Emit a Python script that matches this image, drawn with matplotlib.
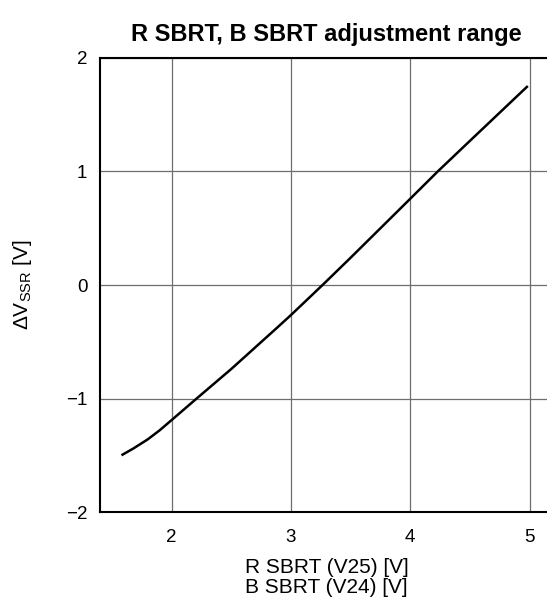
import matplotlib.pyplot as plt

plt.rcParams['font.family'] = ['Liberation Sans', 'DejaVu Sans']
plt.rcParams['mathtext.fontset'] = 'custom'
plt.rcParams['mathtext.rm'] = 'Liberation Sans'
plt.rcParams['mathtext.it'] = 'Liberation Sans'

# R SBRT (V25) / B SBRT (V24) voltage vs. delta VSSR
sbrt_v = [1.58, 1.68, 1.8, 1.9, 2.0, 2.21, 2.5, 2.88, 3.0, 3.265, 3.5, 4.0, 4.23, 4.5, 4.985]
delta_vssr = [-1.5, -1.44, -1.36, -1.28, -1.19, -1.0, -0.74, -0.38, -0.265, 0.0, 0.24, 0.76, 1.0, 1.27, 1.753]

x_ticks = [2, 3, 4, 5]
y_ticks = [-2, -1, 0, 1, 2]
y_ticklabels = ['\u22122', '\u22121', '0', '1', '2']

fig = plt.figure(figsize=(5.47, 5.99), dpi=100)
ax = fig.add_axes([0.1828, 0.1452, 0.829, 0.758])

ax.plot(sbrt_v, delta_vssr, color='black', lw=1.8, solid_capstyle='butt', zorder=3)

ax.set_xlim(1.4, 5.2)
ax.set_ylim(-2, 2)
ax.set_xticks(x_ticks)
ax.set_yticks(y_ticks)
ax.set_yticklabels(y_ticklabels)
ax.tick_params(length=0, labelsize=13.5)
ax.tick_params(axis='x', pad=12)
ax.tick_params(axis='y', pad=9)
ax.grid(True, color='#6e6e6e', lw=0.9)

for side in ['left', 'bottom', 'top']:
    ax.spines[side].set_linewidth(1.5)
ax.spines['right'].set_visible(False)

ax.set_title('R SBRT, B SBRT adjustment range', fontsize=17, fontweight='bold', pad=12)
ax.set_xlabel('R SBRT (V25) [V]\nB SBRT (V24) [V]', fontsize=15, labelpad=9, linespacing=1.05)
ax.set_ylabel(r'$\Delta$V$_{\mathrm{SSR}}$ [V]', fontsize=15, labelpad=23)

fig.savefig('out.png', dpi=100)
